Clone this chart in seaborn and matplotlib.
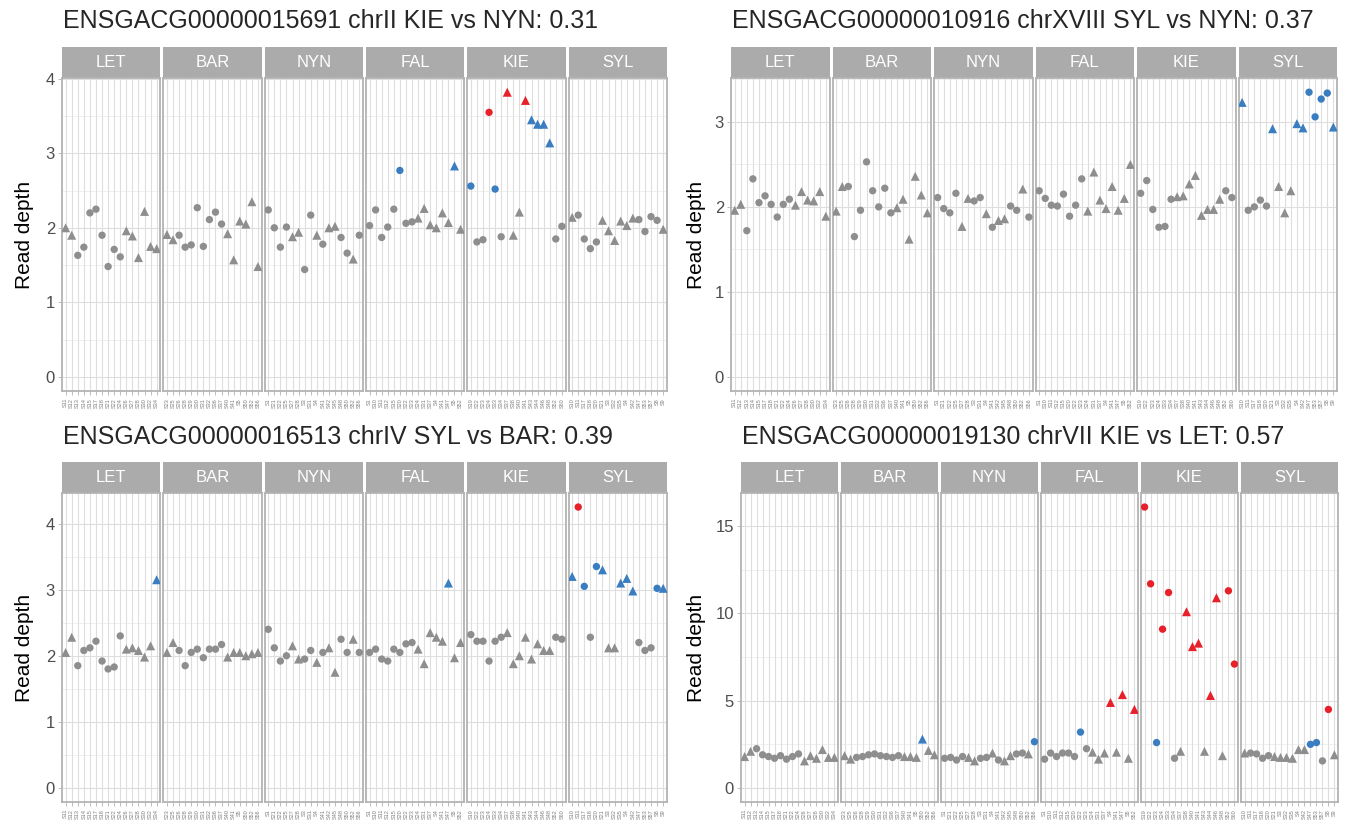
import matplotlib
matplotlib.use("Agg")
import numpy as np
import pandas as pd
import seaborn as sns
import matplotlib.pyplot as plt
from matplotlib.patches import Rectangle

sns.set_theme(style="white")
plt.rcParams["font.family"] = ["Liberation Sans", "DejaVu Sans"]

pops = ["LET", "BAR", "NYN", "FAL", "KIE", "SYL"]

# sample ids shown under each facet
let_samples = ["S11", "S12", "S13", "S14", "S15", "S17", "S18", "S21", "S22", "S24", "S26", "S27", "S28", "S30", "S32", "S34"]
bar_samples = ["S23", "S25", "S26", "S28", "S29", "S30", "S31", "S32", "S36", "S37", "S40", "S41", "S5", "S50", "S52", "S56"]
nyn_samples = ["S1", "S21", "S22", "S25", "S27", "S28", "S3", "S31", "S4", "S41", "S42", "S45", "S48", "S50", "S52", "S56"]
fal_samples = ["S1", "S10", "S11", "S12", "S15", "S20", "S22", "S23", "S24", "S31", "S37", "S4", "S41", "S47", "S5", "S52"]
kie_samples = ["S19", "S22", "S23", "S24", "S33", "S34", "S37", "S38", "S40", "S41", "S43", "S44", "S46", "S48", "S52", "S60"]
syl_samples = ["S10", "S11", "S17", "S18", "S20", "S21", "S3", "S32", "S35", "S4", "S42", "S47", "S53", "S57", "S8", "S9"]

# F = circle, M = triangle
let_sex = "MMFFFFFFFFMMMMMM"
bar_sex = "MMFFFFFFFFMMMMMM"
nyn_sex = "FFFFMMFFMFMMFFMF"
fal_sex = "FFFFFFFFMMMMMMMM"
kie_sex = "FFFFFFMMMMMMMMFF"
syl_sex = "MFFFFMMMMMMFFFFM"

titles = ["ENSGACG00000015691 chrII KIE vs NYN: 0.31",
          "ENSGACG00000010916 chrXVIII SYL vs NYN: 0.37",
          "ENSGACG00000016513 chrIV SYL vs BAR: 0.39",
          "ENSGACG00000019130 chrVII KIE vs LET: 0.57"]

# read depth per population, same order as pops
depth_15691 = [
    [2.00, 1.90, 1.63, 1.74, 2.20, 2.25, 1.90, 1.48, 1.71, 1.61, 1.96, 1.89, 1.60, 2.22, 1.75, 1.72],
    [1.91, 1.84, 1.90, 1.74, 1.77, 2.27, 1.75, 2.11, 2.21, 2.05, 1.92, 1.57, 2.09, 2.05, 2.35, 1.48],
    [2.24, 2.00, 1.74, 2.01, 1.88, 1.94, 1.44, 2.17, 1.90, 1.78, 2.00, 2.02, 1.87, 1.66, 1.58, 1.90],
    [2.03, 2.24, 1.87, 2.01, 2.25, 2.77, 2.06, 2.08, 2.13, 2.26, 2.04, 2.00, 2.20, 2.07, 2.83, 1.98],
    [2.56, 1.81, 1.84, 3.55, 2.52, 1.88, 3.82, 1.90, 2.21, 3.71, 3.45, 3.39, 3.39, 3.14, 1.85, 2.02],
    [2.14, 2.17, 1.85, 1.72, 1.81, 2.10, 1.96, 1.83, 2.09, 2.03, 2.13, 2.11, 1.95, 2.15, 2.10, 1.98],
]
depth_10916 = [
    [1.96, 2.03, 1.72, 2.33, 2.05, 2.13, 2.03, 1.88, 2.03, 2.09, 2.02, 2.18, 2.08, 2.07, 2.18, 1.89],
    [1.95, 2.24, 2.24, 1.65, 1.96, 2.53, 2.19, 2.00, 2.22, 1.93, 1.99, 2.09, 1.62, 2.36, 2.14, 1.93],
    [2.11, 1.98, 1.93, 2.16, 1.77, 2.10, 2.07, 2.11, 1.92, 1.76, 1.84, 1.86, 2.01, 1.96, 2.21, 1.88],
    [2.19, 2.10, 2.02, 2.01, 2.15, 1.89, 2.02, 2.33, 1.95, 2.41, 2.08, 1.98, 2.24, 1.96, 2.10, 2.50],
    [2.16, 2.31, 1.97, 1.76, 1.77, 2.09, 2.12, 2.13, 2.27, 2.37, 1.90, 1.97, 1.97, 2.09, 2.19, 2.11],
    [3.23, 1.96, 2.00, 2.08, 2.01, 2.92, 2.24, 1.93, 2.19, 2.98, 2.93, 3.35, 3.06, 3.27, 3.34, 2.94],
]
depth_16513 = [
    [2.05, 2.28, 1.85, 2.08, 2.12, 2.22, 1.92, 1.80, 1.83, 2.30, 2.10, 2.12, 2.08, 1.98, 2.15, 3.15],
    [2.05, 2.20, 2.08, 1.85, 2.05, 2.10, 1.97, 2.10, 2.10, 2.17, 1.98, 2.05, 2.05, 2.00, 2.03, 2.05],
    [2.40, 2.12, 1.92, 2.00, 2.15, 1.95, 1.95, 2.08, 1.90, 2.05, 2.12, 1.75, 2.25, 2.05, 2.25, 2.05],
    [2.05, 2.10, 1.95, 1.92, 2.10, 2.05, 2.18, 2.20, 2.10, 1.88, 2.35, 2.28, 2.22, 3.10, 1.97, 2.20],
    [2.32, 2.22, 2.22, 1.92, 2.22, 2.28, 2.35, 1.88, 2.00, 2.28, 1.95, 2.18, 2.08, 2.08, 2.28, 2.25],
    [3.20, 4.25, 3.05, 2.28, 3.35, 3.30, 2.12, 2.12, 3.10, 3.17, 2.98, 2.20, 2.08, 2.12, 3.02, 3.02],
]
depth_19130 = [
    [1.80, 2.10, 2.25, 1.90, 1.80, 1.70, 1.85, 1.65, 1.80, 1.95, 1.55, 1.85, 1.70, 2.20, 1.75, 1.75],
    [1.85, 1.65, 1.75, 1.80, 1.90, 1.95, 1.85, 1.80, 1.75, 1.85, 1.80, 1.80, 1.75, 2.80, 2.15, 1.90],
    [1.70, 1.75, 1.60, 1.80, 1.75, 1.55, 1.70, 1.75, 2.00, 1.60, 1.55, 1.85, 1.95, 2.00, 1.95, 2.65],
    [1.65, 2.00, 1.80, 2.00, 2.00, 1.80, 3.20, 2.25, 2.05, 1.65, 2.00, 4.90, 2.05, 5.35, 1.70, 4.50],
    [16.1, 11.7, 2.60, 9.10, 11.2, 1.70, 2.10, 10.1, 8.10, 8.30, 2.10, 5.30, 10.9, 1.85, 11.3, 7.10],
    [2.00, 2.00, 1.95, 1.70, 1.85, 1.80, 1.75, 1.75, 1.70, 2.20, 2.20, 2.50, 2.60, 1.55, 4.50, 1.90],
]

# n = normal, b = blue group, r = red group
status_15691 = ["nnnnnnnnnnnnnnnn", "nnnnnnnnnnnnnnnn", "nnnnnnnnnnnnnnnn",
                "nnnnnbnnnnnnnnbn", "bnnrbnrnnrbbbbnn", "nnnnnnnnnnnnnnnn"]
status_10916 = ["nnnnnnnnnnnnnnnn", "nnnnnnnnnnnnnnnn", "nnnnnnnnnnnnnnnn",
                "nnnnnnnnnnnnnnnn", "nnnnnnnnnnnnnnnn", "bnnnnbnnnbbbbbbb"]
status_16513 = ["nnnnnnnnnnnnnnnb", "nnnnnnnnnnnnnnnn", "nnnnnnnnnnnnnnnn",
                "nnnnnnnnnnnnnbnn", "nnnnnnnnnnnnnnnn", "brbnbbnnbbbnnnbb"]
status_19130 = ["nnnnnnnnnnnnnnnn", "nnnnnnnnnnnnnbnn", "nnnnnnnnnnnnnnnb",
                "nnnnnnbnnnnrnrnr", "rrbrrnnrrrnrrnrr", "nnnnnnnnnnnbbnrn"]

samples = [let_samples, bar_samples, nyn_samples, fal_samples, kie_samples, syl_samples]
sexes = [let_sex, bar_sex, nyn_sex, fal_sex, kie_sex, syl_sex]

pal = {"n": "#8E8E8E", "b": "#3A7DC0", "r": "#E8202A"}
marks = {"F": "o", "M": "^"}
msizes = {"F": 28, "M": 42}

W, H = 1348, 823
fig = plt.figure(figsize=(W / 100, H / 100), dpi=100)


def gene_frame(depth, status):
    rows = []
    for p, pop in enumerate(pops):
        for i, s in enumerate(samples[p]):
            rows.append((pop, s, sexes[p][i], depth[p][i], status[p][i]))
    return pd.DataFrame(rows, columns=["pop", "sample", "sex", "depth", "status"])


def draw_gene(df, title, x0, step, fw, ytop, ybot, yticks, ylab_x, title_y):
    top = df["depth"].max()
    ylim = (-0.05 * top, 1.05 * top)
    minor = [(a + b) / 2 for a, b in zip(yticks[:-1], yticks[1:])]
    minor.append(yticks[-1] + (yticks[1] - yticks[0]) / 2)
    ph = ybot - ytop
    for i, pop in enumerate(pops):
        ax = fig.add_axes([(x0 + i * step) / W, 1 - ybot / H, fw / W, ph / H])
        sub = df[df["pop"] == pop]
        for y in yticks:
            ax.axhline(y, color="#DEDEDE", lw=0.8, zorder=0)
        for y in minor:
            ax.axhline(y, color="#E8E8E8", lw=0.45, zorder=0)
        for k in range(len(sub)):
            ax.axvline(k, color="#DEDEDE", lw=0.8, zorder=0)
        sns.scatterplot(data=sub, x="sample", y="depth", hue="status", style="sex",
                        size="sex", sizes=msizes, palette=pal, markers=marks,
                        linewidth=0, legend=False, ax=ax, zorder=3)
        ax.set_xlim(-0.6, len(sub) - 0.4)
        ax.set_ylim(*ylim)
        ax.set_xticks(range(len(sub)))
        ax.set_xticklabels(sub["sample"], rotation=90, fontsize=4, color="#7F7F7F")
        ax.set_yticks(yticks)
        ax.set_xlabel("")
        ax.set_ylabel("")
        ax.tick_params(axis="both", length=3, width=0.6, color="#B3B3B3", pad=2,
                       bottom=True, left=(i == 0))
        if i == 0:
            ax.set_yticklabels([str(t) for t in yticks], fontsize=12, color="#4D4D4D")
        else:
            ax.set_yticklabels([])
            ax.tick_params(axis="y", left=False)
        for sp in ax.spines.values():
            sp.set_color("#B3B3B3")
            sp.set_linewidth(1.3)
        sh = 31 / ph
        ax.add_patch(Rectangle((0, 1), 1, sh, transform=ax.transAxes, clip_on=False,
                               facecolor="#ABABAB", edgecolor="none"))
        ax.text(0.5, 1 + sh / 2, pop, transform=ax.transAxes, ha="center", va="center",
                color="white", fontsize=12)
    fig.text(ylab_x / W, 1 - (ytop + ybot) / 2 / H, "Read depth", rotation=90,
             ha="center", va="center", fontsize=15, color="black")
    fig.text((x0 + 1) / W, 1 - title_y / H, title, ha="left", va="center", fontsize=18)


draw_gene(gene_frame(depth_15691, status_15691), titles[0], 62, 101.3, 98.3, 78, 391,
          [0, 1, 2, 3, 4], 25, 21)
draw_gene(gene_frame(depth_10916, status_10916), titles[1], 731, 101.5, 98.5, 78, 391,
          [0, 1, 2, 3], 697, 21)
draw_gene(gene_frame(depth_16513, status_16513), titles[2], 62, 101.3, 98.3, 493, 802,
          [0, 1, 2, 3, 4], 25, 437)
draw_gene(gene_frame(depth_19130, status_19130), titles[3], 741, 100.0, 97.0, 493, 802,
          [0, 5, 10, 15], 697, 437)

fig.savefig("out.png", dpi=100, facecolor="white")
